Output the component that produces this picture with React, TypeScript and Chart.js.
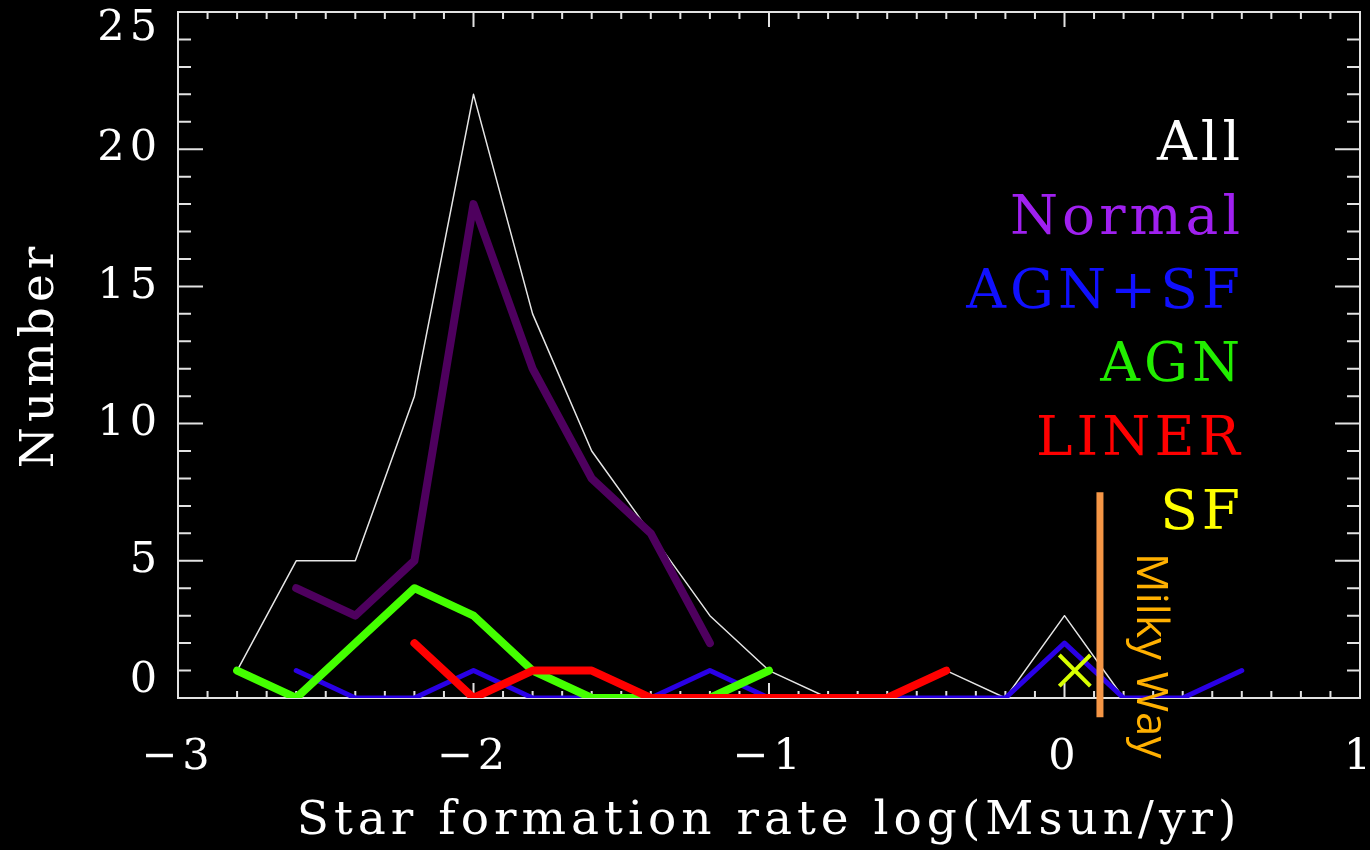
import React, { useEffect, useRef } from 'react';
import { Chart, registerables } from 'chart.js';

Chart.register(...registerables);

// ---- data ----
const sfrBins = [-2.8, -2.6, -2.4, -2.2, -2.0, -1.8, -1.6, -1.4, -1.2, -1.0, -0.8, -0.6, -0.4, -0.2, 0.0, 0.2, 0.4, 0.6];
const allCounts = [1, 5, 5, 11, 22, 14, 9, 6, 3, 1, 0, 0, 1, 0, 3, 0, 0, 1];
const normalCounts = [null, 4, 3, 5, 18, 12, 8, 6, 2, null, null, null, null, null, null, null, null, null];
const agnSfCounts = [null, 1, 0, 0, 1, 0, 0, 0, 1, 0, 0, 0, 0, 0, 2, 0, 0, 1];
const agnCounts = [1, 0, 2, 4, 3, 1, 0, 0, 0, 1, null, null, null, null, null, null, null, null];
const linerCounts = [null, null, null, 2, 0, 1, 1, 0, 0, 0, 0, 0, 1, null, null, null, null, null];
const sfSfr = [0.035];
const sfCounts = [1];
const milkyWaySfr = 0.12;
const milkyWayRange = [-0.7, 7.5];
const milkyWayLabel = 'Milky Way';

const xTicks = [-3, -2, -1, 0, 1];
const yTicks = [0, 5, 10, 15, 20, 25];
const legendLabels = ['All', 'Normal', 'AGN+SF', 'AGN', 'LINER', 'SF'];
const legendColors = ['#ffffff', '#a020f0', '#1010ff', '#22ee00', '#ff0000', '#ffff00'];
const xTitle = 'Star formation rate log(Msun/yr)';
const yTitle = 'Number';

const toPoints = (vals: (number | null)[]) =>
  sfrBins.map((x, i) => ({ x, y: vals[i] })).filter((p) => p.y !== null);

const fmt = (v: number) => (v < 0 ? '\u2212' + Math.abs(v) : String(v));

// canvas is larger than the window so that the plot box can sit where the reference has it
const SHIFT_TOP = 48;
const EXTRA_RIGHT = 50;

export default function App() {
  const ref = useRef<HTMLCanvasElement>(null);

  useEffect(() => {
    const canvas = ref.current;
    if (!canvas) return;

    const framePlugin = {
      id: 'frame',
      beforeDraw(chart: any) {
        chart.ctx.letterSpacing = '5px';
      },
      beforeDatasetsDraw(chart: any) {
        const { ctx, chartArea, scales } = chart;
        const { left, right, top, bottom } = chartArea;
        const xs = scales.x;
        const ys = scales.y;
        ctx.save();
        ctx.strokeStyle = '#e2e2e2';
        ctx.lineWidth = 2;
        ctx.strokeRect(left, top, right - left, bottom - top);
        ctx.beginPath();
        for (let k = 0; k <= 40; k++) {
          const v = -3 + k * 0.1;
          const px = xs.getPixelForValue(v);
          const len = k % 10 === 0 ? 15 : 7;
          ctx.moveTo(px, bottom);
          ctx.lineTo(px, bottom - len);
          ctx.moveTo(px, top);
          ctx.lineTo(px, top + len);
        }
        for (let k = 0; k <= 25; k++) {
          const py = ys.getPixelForValue(k);
          const len = k % 5 === 0 ? 25 : 13;
          ctx.moveTo(left, py);
          ctx.lineTo(left + len, py);
          ctx.moveTo(right, py);
          ctx.lineTo(right - len, py);
        }
        ctx.stroke();
        ctx.restore();
      },
      afterDatasetsDraw(chart: any) {
        const { ctx, scales } = chart;
        const xs = scales.x;
        const ys = scales.y;
        ctx.save();
        ctx.letterSpacing = '0px';
        ctx.translate(xs.getPixelForValue(0.245), ys.getPixelForValue(5.28));
        ctx.rotate(Math.PI / 2);
        ctx.font = '44px "Open Sans"';
        ctx.fillStyle = '#ffb000';
        ctx.textAlign = 'left';
        ctx.textBaseline = 'alphabetic';
        ctx.fillText(milkyWayLabel, 0, 0);
        ctx.restore();
      },
      afterDraw(chart: any) {
        const { ctx, chartArea } = chart;
        ctx.save();
        ctx.letterSpacing = '4px';
        ctx.font = '55px "DejaVu Serif"';
        ctx.textAlign = 'right';
        ctx.textBaseline = 'alphabetic';
        legendLabels.forEach((t, i) => {
          ctx.fillStyle = legendColors[i];
          ctx.fillText(t, chartArea.right - 116, chartArea.top + 148 + i * 73.8);
        });
        ctx.restore();
      },
    };

    const lineDs = (label: string, vals: (number | null)[], color: string, width: number, order: number) => ({
      type: 'line' as const,
      label,
      data: toPoints(vals),
      borderColor: color,
      backgroundColor: color,
      borderWidth: width,
      pointRadius: 0,
      tension: 0,
      order,
      borderJoinStyle: 'round' as const,
      borderCapStyle: 'round' as const,
    });

    const chart = new Chart(canvas, {
      type: 'line',
      data: {
        datasets: [
          {
            type: 'line',
            label: 'Milky Way',
            data: milkyWayRange.map((y) => ({ x: milkyWaySfr, y })),
            borderColor: '#f59646',
            borderWidth: 7,
            pointRadius: 0,
            clip: false,
            order: 0,
            borderCapStyle: 'butt',
          } as any,
          {
            type: 'scatter',
            label: 'SF',
            data: sfSfr.map((x, i) => ({ x, y: sfCounts[i] })),
            pointStyle: 'crossRot',
            pointRadius: 22,
            borderColor: '#d8ff00',
            backgroundColor: '#d8ff00',
            pointBorderWidth: 4,
            borderWidth: 4,
            order: 1,
          } as any,
          lineDs('LINER', linerCounts, '#ff0000', 8, 2),
          lineDs('AGN', agnCounts, '#44ff00', 8, 3),
          lineDs('AGN+SF', agnSfCounts, '#2a00e6', 5, 4),
          lineDs('Normal', normalCounts, '#4e005e', 8, 5),
          lineDs('All', allCounts, '#e6e6e6', 1.5, 6),
        ],
      },
      options: {
        animation: false,
        responsive: true,
        maintainAspectRatio: false,
        layout: { padding: { left: 0, right: 10 + EXTRA_RIGHT, top: 12 + SHIFT_TOP, bottom: 0 } },
        plugins: {
          legend: { display: false },
          tooltip: { enabled: false },
        },
        scales: {
          x: {
            type: 'linear',
            min: -3,
            max: 1,
            grid: { display: false, drawTicks: false },
            border: { display: false },
            afterBuildTicks: (s: any) => {
              s.ticks = xTicks.map((v) => ({ value: v }));
            },
            afterFit: (s: any) => {
              s.height = 152;
            },
            ticks: {
              color: '#ffffff',
              font: { family: 'DejaVu Serif', size: 43 },
              padding: 34,
              maxRotation: 0,
              autoSkip: false,
              callback: (v: any) => fmt(Number(v)),
            },
            title: {
              display: true,
              text: xTitle,
              color: '#ffffff',
              font: { family: 'DejaVu Serif', size: 47 },
              padding: { top: 0, bottom: 0 },
            },
          },
          y: {
            type: 'linear',
            min: 0,
            max: 25,
            grid: { display: false, drawTicks: false },
            border: { display: false },
            afterBuildTicks: (s: any) => {
              s.ticks = yTicks.map((v) => ({ value: v }));
            },
            afterFit: (s: any) => {
              s.width = 178;
            },
            ticks: {
              color: '#ffffff',
              font: { family: 'DejaVu Serif', size: 43, lineHeight: 0.8 },
              padding: 16,
              autoSkip: false,
              callback: (v: any) => {
                const n = Number(v);
                const s = fmt(n);
                if (n === yTicks[yTicks.length - 1]) return ['', s];
                if (n === yTicks[0]) return [s, ''];
                return s;
              },
            },
            title: {
              display: true,
              text: yTitle,
              color: '#ffffff',
              font: { family: 'DejaVu Serif', size: 47 },
              padding: { top: 13, bottom: 0 },
            },
          },
        },
      },
      plugins: [framePlugin],
    } as any);

    return () => chart.destroy();
  }, []);

  return (
    <div
      style={{
        position: 'fixed',
        left: 0,
        top: -SHIFT_TOP,
        width: 1370 + EXTRA_RIGHT,
        height: 850 + SHIFT_TOP,
        background: '#000',
        overflow: 'hidden',
      }}
    >
      <canvas ref={ref} />
    </div>
  );
}
